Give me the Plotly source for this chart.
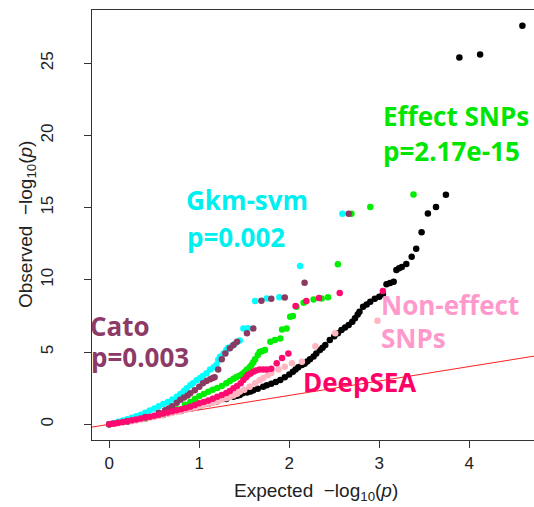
import plotly.graph_objects as go

# ---------------- data ----------------
black_x = [0, 0.2, 0.4, 0.6, 0.8, 0.9, 1.0, 1.1, 1.2, 1.3, 1.38, 1.42, 1.45, 1.48, 1.53, 1.57, 1.6, 1.65, 1.71,
           1.75, 1.8, 1.85, 1.9, 1.95, 2.0, 2.04, 2.07, 2.1, 2.14, 2.17, 2.2, 2.23, 2.27, 2.3, 2.34, 2.37, 2.4,
           2.45, 2.5, 2.54, 2.58, 2.62, 2.66, 2.7, 2.73, 2.76, 2.78, 2.82, 2.86, 2.9, 2.95, 3.0, 3.04, 3.08,
           3.12, 3.16, 3.19, 3.22, 3.25, 3.3, 3.36, 3.41, 3.47, 3.54, 3.63, 3.74, 3.89, 4.12, 4.59]
black_y = [0, 0.17, 0.39, 0.64, 0.92, 1.08, 1.25, 1.42, 1.6, 1.76, 1.91, 1.97, 2.03, 2.15, 2.2, 2.28, 2.35, 2.47,
           2.6, 2.7, 2.8, 2.93, 3.07, 3.25, 3.45, 3.64, 3.8, 3.95, 4.1, 4.2, 4.35, 4.5, 4.7, 4.9, 5.14, 5.3,
           5.5, 5.83, 6.1, 6.3, 6.53, 6.7, 6.87, 7.1, 7.34, 7.6, 7.8, 8.14, 8.3, 8.49, 8.7, 8.83, 9.0, 9.7,
           9.78, 9.87, 10.68, 10.8, 10.9, 11.1, 11.6, 12.15, 13.3, 14.6, 15.04, 15.9, 25.4, 25.6, 27.6]

pink_x = [0, 0.05, 0.1, 0.15, 0.2, 0.25, 0.3, 0.35, 0.4, 0.45, 0.5, 0.55, 0.6, 0.65, 0.7, 0.75, 0.8, 0.85, 0.9,
          0.95, 1.0, 1.05, 1.1, 1.15, 1.2, 1.25, 1.3, 1.34, 1.38, 1.42, 1.45, 1.5, 1.56, 1.62,
          1.67, 1.71, 1.76, 1.8, 1.88, 1.95, 2.03, 2.14, 2.29, 2.51, 2.98]
pink_y = [0, 0.03, 0.07, 0.12, 0.17, 0.22, 0.27, 0.33, 0.39, 0.45, 0.51, 0.57, 0.64, 0.71, 0.78, 0.85, 0.92,
          1.0, 1.08, 1.16, 1.25, 1.33, 1.42, 1.5, 1.6, 1.7, 1.8, 1.9, 2.0, 2.12, 2.25, 2.4, 2.6, 2.85,
          3.05, 3.2, 3.4, 3.55, 3.8, 3.99, 4.22, 4.33, 5.4, 6.3, 7.17]

cyan_x = [0, 0.05, 0.1, 0.15, 0.2, 0.25, 0.3, 0.35, 0.4, 0.45, 0.5, 0.55, 0.6, 0.65, 0.7, 0.75, 0.79, 0.83,
          0.86, 0.9, 0.93, 0.97, 1.01, 1.04, 1.08, 1.12, 1.16, 1.19, 1.21, 1.23, 1.27, 1.3, 1.32, 1.36, 1.4,
          1.45, 1.49, 1.54, 1.62, 1.75, 1.89, 2.12, 2.59]
cyan_y = [0, 0.08, 0.17, 0.26, 0.35, 0.45, 0.56, 0.67, 0.8, 0.95, 1.1, 1.25, 1.4, 1.55, 1.72, 1.9, 2.1, 2.3,
          2.5, 2.7, 2.84, 3.05, 3.2, 3.35, 3.53, 3.8, 3.95, 4.1, 4.45, 4.68, 4.91, 5.14, 5.3, 5.4, 5.6,
          5.8, 6.64, 6.65, 8.53, 8.72, 8.79, 10.97, 14.58]

green_x = [0, 0.2, 0.4, 0.6, 0.75, 0.84, 0.9, 0.95, 1.0, 1.05, 1.1, 1.15, 1.2, 1.25, 1.3, 1.34, 1.38, 1.41,
           1.44, 1.47, 1.49, 1.51, 1.53, 1.56, 1.58, 1.6, 1.62, 1.65, 1.67, 1.7, 1.73, 1.79, 1.84, 1.9, 1.92,
           1.97, 2.01, 2.04, 2.08, 2.16, 2.27, 2.36, 2.43, 2.54, 2.69, 2.9, 3.38]
green_y = [0, 0.2, 0.45, 0.75, 1.05, 1.35, 1.55, 1.75, 1.95, 2.1, 2.25, 2.4, 2.52, 2.65, 2.85, 3.0, 3.15, 3.25,
           3.35, 3.45, 3.53, 3.65, 3.8, 3.95, 4.1, 4.3, 4.5, 4.8, 5.0, 5.08, 5.14, 5.72, 5.83, 5.95, 6.57,
           6.64, 7.45, 7.5, 8.14, 8.42, 8.65, 8.72, 8.79, 11.09, 14.58, 15.04, 15.92]

purple_x = [0, 0.2, 0.4, 0.55, 0.62, 0.66, 0.7, 0.75, 0.79, 0.83, 0.87, 0.9, 0.95, 1.0, 1.04, 1.08, 1.12,
            1.15, 1.17, 1.21, 1.25, 1.29, 1.34, 1.38, 1.42, 1.53, 1.6, 1.69, 1.8, 1.95, 2.17, 2.66]
purple_y = [0, 0.22, 0.5, 0.8, 0.97, 1.1, 1.25, 1.5, 1.7, 1.85, 2.0, 2.15, 2.35, 2.6, 2.84, 3.0, 3.12,
            3.2, 3.25, 3.8, 4.5, 4.91, 5.26, 5.49, 5.72, 6.3, 6.64, 8.55, 8.7, 8.78, 9.8, 14.58]

magenta_x = [0, 0.03, 0.06, 0.1, 0.15, 0.2, 0.25, 0.3, 0.35, 0.4, 0.45, 0.5, 0.55, 0.6, 0.65, 0.7, 0.75, 0.8,
             0.85, 0.9, 0.95, 1.0, 1.05, 1.1, 1.15, 1.2, 1.25, 1.3, 1.34, 1.38, 1.42, 1.46, 1.49, 1.52, 1.54,
             1.57, 1.6, 1.63, 1.67, 1.71, 1.75, 1.8, 1.86, 1.92, 1.99, 2.07, 2.19, 2.33, 2.56, 3.04]
magenta_y = [0, 0.03, 0.06, 0.1, 0.16, 0.22, 0.28, 0.34, 0.41, 0.47, 0.53, 0.6, 0.67, 0.75, 0.82, 0.9, 0.97, 1.05,
             1.13, 1.22, 1.33, 1.45, 1.55, 1.65, 1.77, 1.9, 2.03, 2.17, 2.3, 2.49, 2.65, 2.85, 3.07, 3.25, 3.41,
             3.52, 3.64, 3.72, 3.8, 3.8, 3.8, 3.85, 4.22, 4.6, 4.91, 8.2, 8.53, 8.74, 9.1, 9.23]

ref_line = [-0.3, 4.8]          # the y = x reference line

x_ticks = [0, 1, 2, 3, 4]
y_ticks = [0, 5, 10, 15, 20, 25]

# ---------------- figure ----------------
W, H = 534, 507
L, R, T, B = 92, 0, 10, 67
pw, ph = W - L - R, H - T - B


def px(xpix):
    return (xpix - L) / pw


def py(ypix):
    return 1 - (ypix - T) / ph


fig = go.Figure()
fig.add_trace(go.Scatter(x=ref_line, y=ref_line, mode="lines",
                         line=dict(color="#ff2020", width=1), hoverinfo="skip"))

series = [
    (black_x, black_y, "#000000"),
    (pink_x, pink_y, "#ffb6c1"),
    (cyan_x, cyan_y, "#00ffff"),
    (green_x, green_y, "#00ee00"),
    (purple_x, purple_y, "#8b3a62"),
    (magenta_x, magenta_y, "#ff0a70"),
]
for xs, ys, c in series:
    fig.add_trace(go.Scatter(x=xs, y=ys, mode="markers",
                             marker=dict(color=c, size=6.5, line=dict(width=0))))

lab_font = "Open Sans"
labels = [
    ("Effect SNPs", 381, 116, "#00e600"),
    ("p=2.17e-15", 381, 151, "#00e600"),
    ("Gkm-svm", 184, 200, "#00f0f0"),
    ("p=0.002", 185, 237, "#00f0f0"),
    ("Cato", 88, 326, "#8e3a66"),
    ("p=0.003", 89, 357, "#8e3a66"),
    ("Non-effect", 379, 305, "#ff99cc"),
    ("SNPs", 379, 338, "#ff99cc"),
    ("DeepSEA", 301, 382, "#ff0066"),
]
for txt, xx, yy, c in labels:
    fig.add_annotation(text=txt, xref="paper", yref="paper", x=px(xx), y=py(yy),
                       xanchor="left", yanchor="middle", showarrow=False,
                       font=dict(family=lab_font, size=26, color=c, weight="bold"))

ax_font = dict(family="Liberation Sans", size=19, color="#222222")
fig.add_annotation(text="Expected  \u2212log<sub>10</sub>(<i>p</i>)", xref="paper", yref="paper",
                   x=px(316), y=py(492), xanchor="center", yanchor="middle", showarrow=False,
                   font=ax_font)
fig.add_annotation(text="Observed  \u2212log<sub>10</sub>(<i>p</i>)", xref="paper", yref="paper",
                   x=px(27), y=py(225), xanchor="center", yanchor="middle", showarrow=False,
                   textangle=-90, font=ax_font)

tick_font = dict(family="Liberation Sans", size=17, color="#222222")
fig.update_xaxes(range=[-0.192, 4.719], tickvals=x_ticks, ticks="outside", ticklen=7,
                 tickcolor="#333333", showline=True, linecolor="#333333", linewidth=1.3,
                 mirror=True, showgrid=False, zeroline=False, tickfont=tick_font)
fig.update_yaxes(range=[-1.087, 28.69], tickvals=y_ticks, ticks="outside", ticklen=7,
                 tickcolor="#333333", showline=True, linecolor="#333333", linewidth=1.3,
                 showgrid=False, zeroline=False, tickangle=-90, tickfont=tick_font,
                 ticklabelstandoff=24)

fig.update_layout(width=W, height=H, margin=dict(l=L, r=R, t=T, b=B),
                  plot_bgcolor="white", paper_bgcolor="white", showlegend=False)

fig.write_html("out.html", config={"displayModeBar": False},
               post_script="document.body.style.margin='0';")
